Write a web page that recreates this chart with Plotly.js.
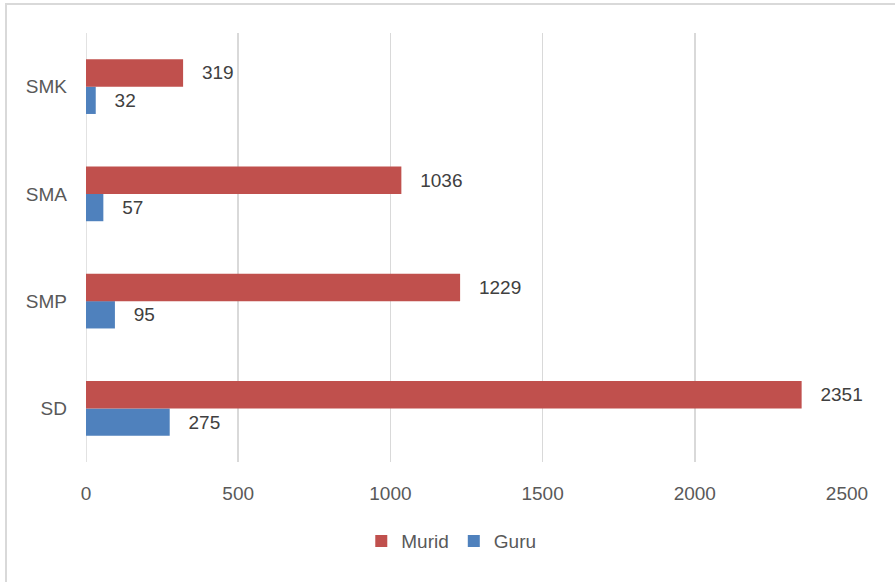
<!DOCTYPE html>
<html>
<head>
<meta charset="utf-8">
<script src="https://cdn.plot.ly/plotly-3.0.1.min.js"></script>
<style>
  html, body { margin: 0; padding: 0; background: #fff; }
  #wrap { position: relative; width: 895px; height: 582px; overflow: hidden; }
  #chart { position: absolute; left: 0; top: 0; width: 895px; height: 582px; }
  #frame { position: absolute; left: 5px; top: 3px; width: 900px; height: 600px;
           border: 2px solid #d9d9d9; pointer-events: none; box-sizing: border-box; }
</style>
</head>
<body>
<div id="wrap">
  <div id="chart"></div>
  <div id="frame"></div>
</div>
<script>
const categories = ["SD", "SMP", "SMA", "SMK"];
const murid = [2351, 1229, 1036, 319];
const guru = [275, 95, 57, 32];
const xTicks = [0, 500, 1000, 1500, 2000, 2500];

const FONT = "Liberation Sans, Arial, sans-serif";
const pad = "\u00a0\u00a0\u00a0";

const traces = [
  {
    type: "bar", orientation: "h", name: "Guru",
    y: categories, x: guru,
    marker: { color: "#4F81BD" },
    text: guru.map(v => pad + v), textposition: "outside",
    textfont: { family: FONT, size: 19, color: "#404040" },
    cliponaxis: false, hoverinfo: "x+name"
  },
  {
    type: "bar", orientation: "h", name: "Murid",
    y: categories, x: murid,
    marker: { color: "#C0504D" },
    text: murid.map(v => pad + v), textposition: "outside",
    textfont: { family: FONT, size: 19, color: "#404040" },
    cliponaxis: false, hoverinfo: "x+name"
  }
];

const layout = {
  width: 895, height: 582,
  margin: { l: 86, r: 48, t: 33, b: 120 },
  paper_bgcolor: "#ffffff", plot_bgcolor: "#ffffff",
  barmode: "group", bargap: 0.49, bargroupgap: 0,
  font: { family: FONT, size: 19, color: "#595959" },
  showlegend: true,
  legend: {
    orientation: "h", traceorder: "reversed",
    x: 0.48, xanchor: "center", y: -0.14, yanchor: "top",
    font: { family: FONT, size: 19, color: "#595959" },
    itemwidth: 30
  },
  xaxis: {
    range: [0, 2500], tickvals: xTicks, ticktext: xTicks.map(String),
    showgrid: true, gridcolor: "#d9d9d9", gridwidth: 1.5,
    zeroline: false, showline: false, ticks: "",
    ticklabelstandoff: 18,
    tickfont: { family: FONT, size: 19, color: "#595959" },
    fixedrange: true
  },
  yaxis: {
    type: "category", categoryorder: "array", categoryarray: categories,
    showgrid: false, zeroline: false, showline: false, ticks: "",
    ticklabelstandoff: 18,
    tickfont: { family: FONT, size: 19, color: "#595959" },
    fixedrange: true
  },
  shapes: [
    { type: "line", xref: "x", yref: "paper", x0: 0, x1: 0, y0: 0, y1: 1,
      line: { color: "#d9d9d9", width: 1.5 }, layer: "below" }
  ]
};

Plotly.newPlot("chart", traces, layout, { displayModeBar: false, staticPlot: true });
</script>
</body>
</html>
